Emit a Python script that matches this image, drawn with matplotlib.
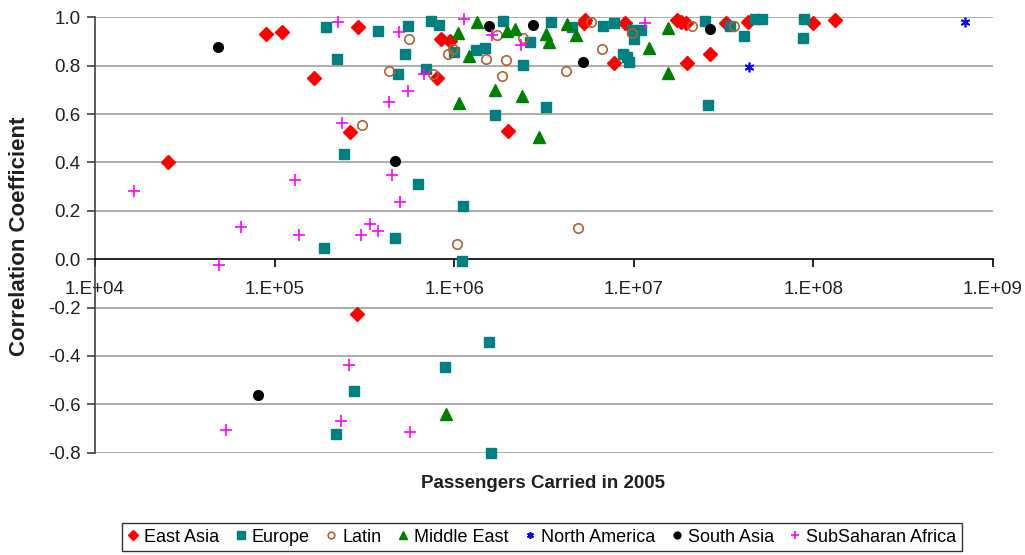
import matplotlib
matplotlib.use("Agg")
import matplotlib.pyplot as plt
from matplotlib.ticker import FixedLocator, FuncFormatter, NullLocator
import math

plt.rcParams['font.family'] = ['Liberation Sans', 'DejaVu Sans']

# ---- data (passengers carried in 2005, correlation coefficient) ----
east_asia_x = [25500, 89000, 110000, 166000, 290000, 263000, 288000, 843000, 950000, 802000,
               2.0e6, 5.35e6, 5.25e6, 7.8e6, 8.9e6, 1.73e7, 1.82e7, 1.95e7, 1.98e7, 2.64e7,
               3.26e7, 4.3e7, 1.0e8, 1.32e8]
east_asia_y = [0.40, 0.93, 0.94, 0.75, 0.96, 0.525, -0.225, 0.91, 0.90, 0.75,
               0.53, 0.99, 0.975, 0.81, 0.975, 0.99, 0.98, 0.975, 0.81, 0.85,
               0.975, 0.98, 0.975, 0.99]

europe_x = [194000, 223000, 375000, 551000, 535000, 486000, 741000, 826000, 697000, 1.0e6,
            1.33e6, 1.49e6, 1.88e6, 3.44e6, 4.54e6, 2.64e6, 2.43e6, 1.68e6, 3.24e6, 6.76e6,
            7.74e6, 9.77e6, 1.0e7, 1.10e7, 8.69e6, 9.18e6, 9.38e6, 2.50e7, 2.59e7, 3.44e7,
            4.12e7, 4.74e7, 5.16e7, 8.91e7, 8.79e7, 242000, 631000, 1.12e6, 469000, 188000,
            1.10e6, 1.57e6, 891000, 276000, 219000, 1.60e6]
europe_y = [0.958, 0.826, 0.942, 0.964, 0.85, 0.767, 0.983, 0.969, 0.787, 0.856,
            0.866, 0.873, 0.983, 0.98, 0.959, 0.898, 0.801, 0.597, 0.629, 0.964,
            0.978, 0.946, 0.911, 0.949, 0.85, 0.836, 0.815, 0.983, 0.636, 0.964,
            0.922, 0.991, 0.991, 0.991, 0.916, 0.436, 0.309, 0.221, 0.089, 0.045,
            -0.009, -0.341, -0.447, -0.545, -0.724, -0.80]

latin_x = [432000, 307000, 557000, 929000, 986000, 759000, 1.74e6, 1.51e6, 1.95e6, 2.43e6,
           1.84e6, 4.21e6, 5.74e6, 6.61e6, 9.77e6, 2.11e7, 3.60e7, 1.03e6, 4.90e6]
latin_y = [0.78, 0.553, 0.909, 0.85, 0.87, 0.767, 0.925, 0.826, 0.822, 0.914,
           0.757, 0.776, 0.98, 0.867, 0.936, 0.964, 0.964, 0.061, 0.127]

middle_east_x = [1.34e6, 1.05e6, 1.21e6, 1.96e6, 2.18e6, 3.23e6, 3.37e6, 4.23e6, 4.79e6,
                 1.69e6, 2.38e6, 1.07e6, 2.96e6, 1.56e7, 1.22e7, 1.55e7, 899000]
middle_east_y = [0.98, 0.936, 0.842, 0.942, 0.95, 0.932, 0.898, 0.973, 0.928,
                 0.698, 0.674, 0.647, 0.505, 0.955, 0.873, 0.769, -0.639]

north_america_x = [7.01e8, 4.37e7]
north_america_y = [0.979, 0.796]

south_asia_x = [48400, 80500, 470000, 1.56e6, 2.75e6, 5.21e6, 2.67e7]
south_asia_y = [0.877, -0.563, 0.406, 0.964, 0.97, 0.815, 0.953]

ssa_x = [16500, 48900, 65300, 130000, 136000, 301000, 341000, 378000, 451000, 501000,
         238000, 436000, 225000, 491000, 555000, 681000, 1.13e6, 1.62e6, 2.36e6, 1.16e7,
         53500, 260000, 234000, 570000]
ssa_y = [0.282, -0.026, 0.133, 0.329, 0.098, 0.098, 0.147, 0.115, 0.346, 0.236,
         0.564, 0.649, 0.98, 0.939, 0.694, 0.764, 0.991, 0.928, 0.887, 0.978,
         -0.708, -0.436, -0.669, -0.716]

x_ticks = [1e4, 1e5, 1e6, 1e7, 1e8, 1e9]
y_ticks = [-0.8, -0.6, -0.4, -0.2, 0.0, 0.2, 0.4, 0.6, 0.8, 1.0]

# ---- figure ----
fig = plt.figure(figsize=(10.25, 5.55), dpi=100)
ax = fig.add_axes([95/1025, 1-452.7/555, (993-95)/1025, (452.7-17.3)/555])

ax.set_xscale('log')
ax.set_xlim(1e4, 1e9)
ax.set_ylim(-0.8, 1.0)

for yv in y_ticks:
    if yv != 0.0:
        ax.axhline(yv, color='#a6a6a6', lw=1.3, zorder=0)

series = [
    ("East Asia", east_asia_x, east_asia_y, dict(marker='D', ms=6.8, mfc='#ff0000', mec='#ff0000')),
    ("Europe", europe_x, europe_y, dict(marker='s', ms=7.4, mfc='#008080', mec='#008080')),
    ("Latin", latin_x, latin_y, dict(marker='o', ms=6.8, mfc='none', mec='#b5602f', mew=1.2)),
    ("Middle East", middle_east_x, middle_east_y, dict(marker='^', ms=8.5, mfc='#008000', mec='#008000')),
    ("North America", north_america_x, north_america_y, dict(marker=(6, 2, 0), ms=7, mfc='#0000ff', mec='#0000ff', mew=1.2)),
    ("South Asia", south_asia_x, south_asia_y, dict(marker='o', ms=7, mfc='#000000', mec='#000000')),
    ("SubSaharan Africa", ssa_x, ssa_y, dict(marker='+', ms=8, mfc='#ff00ff', mec='#ff00ff', mew=1.2)),
]
handles = []
for name, xs, ys, st in series:
    h, = ax.plot(xs, ys, ls='none', label=name, zorder=3, clip_on=False, **st)
    handles.append(h)

ax.spines['top'].set_visible(False)
ax.spines['right'].set_visible(False)
ax.spines['bottom'].set_position(('data', 0))
ax.spines['bottom'].set_color('#000000')
ax.spines['left'].set_color('#404040')
ax.spines['bottom'].set_linewidth(1.2)
ax.spines['left'].set_linewidth(1.2)

ax.xaxis.set_major_locator(FixedLocator(x_ticks))
ax.xaxis.set_minor_locator(NullLocator())
ax.xaxis.set_major_formatter(FuncFormatter(lambda v, p: "1.E+%02d" % int(round(math.log10(v)))))
ax.yaxis.set_major_locator(FixedLocator(y_ticks))
ax.yaxis.set_major_formatter(FuncFormatter(lambda v, p: "%.1f" % v))
ax.tick_params(axis='x', direction='out', length=6, width=1.2, labelsize=13.5, pad=10, color='#000000',
               labelcolor='#202020')
ax.tick_params(axis='y', direction='out', length=5.5, width=1.2, labelsize=13.5, pad=5, color='#404040',
               labelcolor='#202020')

fig.text(20/1025, 1-236/555, "Correlation Coefficient", rotation=90, ha='center', va='center',
         fontsize=16, fontweight='bold', color='#202020')
fig.text(543/1025, 1-484/555, "Passengers Carried in 2005", ha='center', va='center',
         fontsize=13.5, fontweight='bold', color='#202020')

leg = fig.legend(handles=handles, loc='center', bbox_to_anchor=(542/1025, 1-537/555), ncol=7,
                 frameon=True, fancybox=False, edgecolor='#000000', fontsize=13,
                 markerscale=0.7, handlelength=0.6, handletextpad=0.3, columnspacing=0.9,
                 borderpad=0.3)
leg.get_frame().set_linewidth(1.0)

fig.savefig("out.png", dpi=100)
